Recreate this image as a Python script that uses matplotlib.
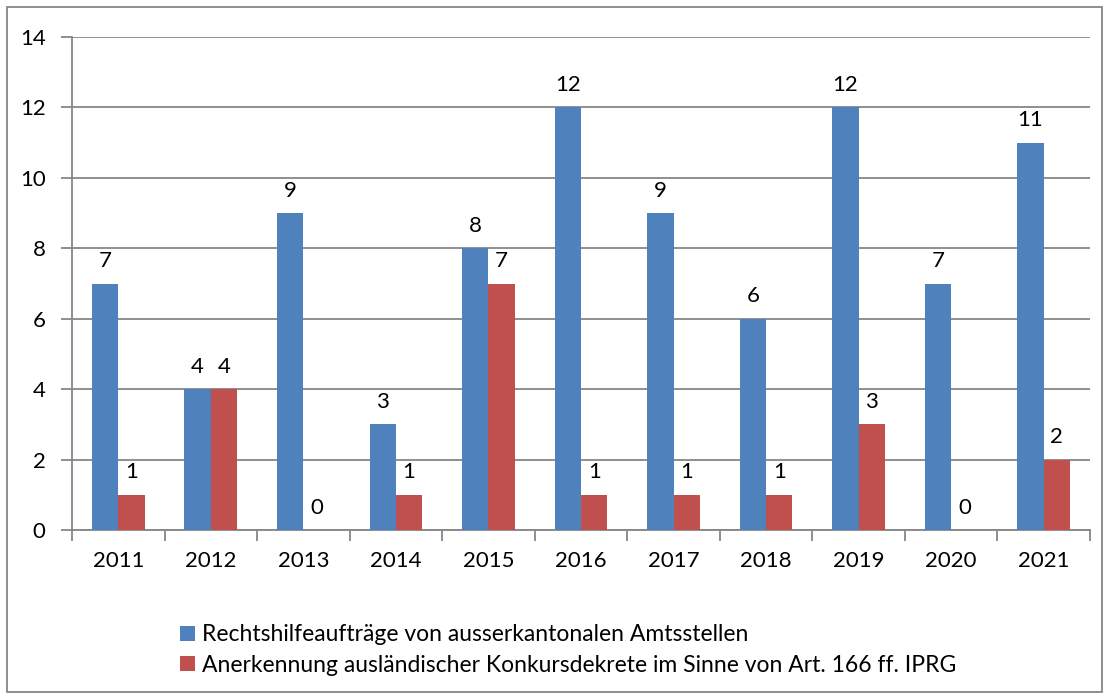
import matplotlib
matplotlib.use("Agg")
import matplotlib.pyplot as plt
import numpy as np
from matplotlib.patches import Rectangle

years = ["2011", "2012", "2013", "2014", "2015", "2016", "2017", "2018", "2019", "2020", "2021"]
rechtshilfe = [7, 4, 9, 3, 8, 12, 9, 6, 12, 7, 11]
anerkennung = [1, 4, 0, 1, 7, 1, 1, 1, 3, 0, 2]
series_names = ["Rechtshilfeaufträge von ausserkantonalen Amtsstellen",
                "Anerkennung ausländischer Konkursdekrete im Sinne von Art. 166 ff. IPRG"]

BLUE = "#4F81BD"
RED = "#C0504D"
GRID = "#868686"

plt.rcParams["font.family"] = ["Lato", "DejaVu Sans"]

fig = plt.figure(figsize=(11.06, 6.93), dpi=100)
ax = fig.add_axes([72 / 1106, 1 - 530 / 693, 1018 / 1106, 493 / 693])

x = np.arange(len(years))
w = 0.285
b1 = ax.bar(x - w / 2, rechtshilfe, w, color=BLUE, label=series_names[0], zorder=3)
b2 = ax.bar(x + w / 2, anerkennung, w, color=RED, label=series_names[1], zorder=3)
for bars in (b1, b2):
    ax.bar_label(bars, padding=9, fontsize=16, color="black")

ax.set_xlim(-0.5, len(years) - 0.5)
ax.set_ylim(0, 14)
ax.set_yticks(range(0, 15, 2))
ax.set_xticks(x)
ax.set_xticklabels(years, fontsize=16)
ax.tick_params(axis="y", labelsize=16, length=8, width=1.3, color=GRID, pad=11)
ax.tick_params(axis="x", length=0, pad=15)
ax.set_xticks(np.arange(-0.5, len(years), 1), minor=True)
ax.tick_params(axis="x", which="minor", length=8, width=1.3, color=GRID)
ax.yaxis.grid(True, color=GRID, linewidth=1.3, zorder=0)
for s in ("top", "right"):
    ax.spines[s].set_visible(False)
for s in ("left", "bottom"):
    ax.spines[s].set_color(GRID)
    ax.spines[s].set_linewidth(1.3)

fig.legend(loc="upper left", bbox_to_anchor=(169 / 1106, 1 - 613 / 693), frameon=False,
           fontsize=16.5, handlelength=0.65, handleheight=0.65, handletextpad=0.3,
           labelspacing=0.4, borderpad=0)

fig.patches.append(Rectangle((7 / 1106, 0.002), 1095 / 1106, 1 - 7 / 693 - 0.002,
                             transform=fig.transFigure, fill=False, edgecolor=GRID, linewidth=1.3))

fig.savefig("out.png", dpi=100, facecolor="white")
